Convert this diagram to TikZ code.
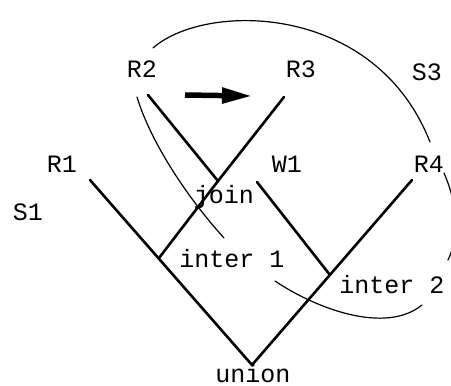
\documentclass[tikz,border=0pt]{standalone}
\usepackage{fontspec}
\setmonofont{Liberation Mono}
\usetikzlibrary{arrows.meta}
\begin{document}
\begin{tikzpicture}[x=1pt,y=-1pt,
  lbl/.style={font=\ttfamily\fontsize{25}{25}\selectfont, inner sep=0pt, anchor=base},
  thickline/.style={line width=2.6pt, line cap=round},
  thinline/.style={line width=1.2pt, line cap=round},
  bigarrow/.style={line width=5.5pt, -{Triangle[length=30pt,width=15pt]}}]
\useasboundingbox (0,0) rectangle (451,386);
% labels
\node[lbl] (R2) at (142,77) {R2};
\node[lbl] (R3) at (301,77) {R3};
\node[lbl] (S3) at (427,80) {S3};
\node[lbl] (R1) at (62,172) {R1};
\node[lbl] (W1) at (287,172) {W1};
\node[lbl] (R4) at (429,172) {R4};
\node[lbl] (S1) at (28,220) {S1};
\node[lbl] (join) at (224,203) {join};
\node[lbl] (inter1) at (232,267) {inter 1};
\node[lbl] (inter2) at (392,293) {inter 2};
\node[lbl, text depth=0pt, text height=14pt] (union) at (253,382) {union};
% junctions and ends
\coordinate (a2) at (148,95);
\coordinate (a3) at (284,97);
\coordinate (J) at (218,181);
\coordinate (a1) at (90,180);
\coordinate (U) at (252,365);
\coordinate (a4) at (412,180);
\coordinate (I1) at (159,258);
\coordinate (w) at (257,182);
\coordinate (I2) at (330,275);
\coordinate (c1s) at (137,97);
\coordinate (c1e) at (224,238);
\coordinate (c2s) at (275,281);
\coordinate (c2e) at (422,305);
\coordinate (c3s) at (153,48);
\coordinate (c3e) at (430,142);
\coordinate (c4s) at (444,173);
\coordinate (c4e) at (448,260);
\coordinate (ar1) at (185,95);
\coordinate (ar2) at (252,96);
% thick tree lines
\draw[thickline] (a2) -- (J) -- (a3);
\draw[thickline] (J) -- (I1);
\draw[thickline] (a1) -- (U) -- (a4);
\draw[thickline] (w) -- (I2);
% thin curves
\draw[thinline] (c1s) .. controls (150,140) and (185,195) .. (c1e);
\draw[thinline] (c2s) .. controls (315,308) and (385,335) .. (c2e);
\draw[thinline] (c3s) .. controls (205,2) and (375,2) .. (c3e);
\begin{scope}
\clip (0,0) rectangle (451,386);
\draw[thinline] (c4s) .. controls (460,210) and (458,240) .. (c4e);
\end{scope}
% arrow
\draw[bigarrow] (ar1) -- (ar2);
\end{tikzpicture}
\end{document}
